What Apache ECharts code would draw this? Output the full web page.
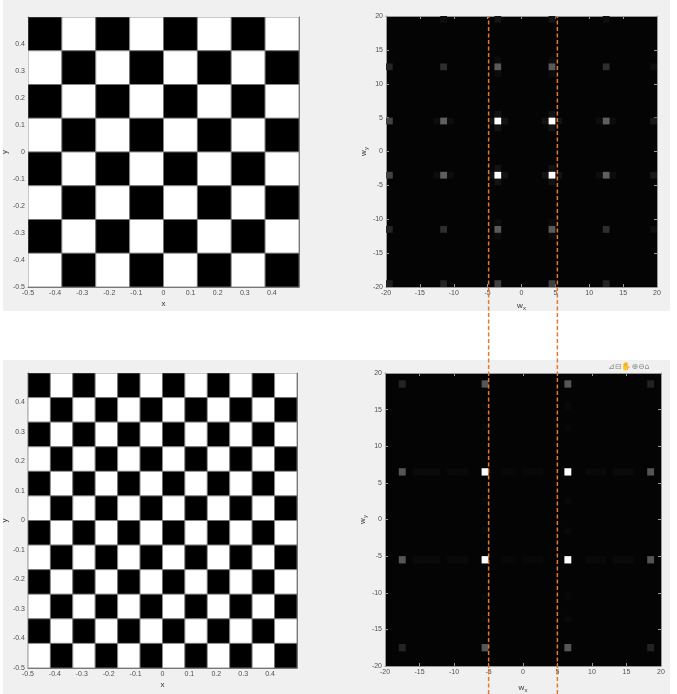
<!doctype html>
<html><head><meta charset="utf-8" />
<style>html,body{margin:0;padding:0;background:#fff}#app{width:677px;height:694px}</style>
<script src="https://cdn.jsdelivr.net/npm/echarts@6/dist/echarts.min.js"></script>
</head><body><div id="app"></div>
<script>
// checkerboards, rows from top, 1 = black cell
const checker8 = ['10101010','01010101','10101010','01010101','10101010','01010101','10101010','01010101'];
const checker12 = ['101010101010','010101010101','101010101010','010101010101','101010101010','010101010101',
                   '101010101010','010101010101','101010101010','010101010101','101010101010','010101010101'];

// spectrum cells [wx, wy, grey level 0-255]
const spec8Peaks = [
  [-3.5,4.5,255],[4.5,4.5,255],[-3.5,-3.5,255],[4.5,-3.5,255],
  [-11.5,4.5,95],[12.5,4.5,95],[-11.5,-3.5,95],[12.5,-3.5,95],
  [-3.5,12.5,90],[4.5,12.5,90],[-3.5,-11.5,90],[4.5,-11.5,90],
  [-19.5,4.5,66],[-19.5,-3.5,66],[-3.5,-19.5,64],[4.5,-19.5,64],
  [-11.5,12.5,46],[12.5,12.5,46],[-11.5,-11.5,46],[12.5,-11.5,46],
  [-19.5,12.5,36],[-19.5,-11.5,36],[-11.5,-19.5,36],[12.5,-19.5,36],[-19.5,-19.5,30],
  [19.5,4.5,24],[19.5,-3.5,24],[-3.5,19.5,20],[4.5,19.5,20],
  [19.5,12.5,14],[19.5,-11.5,14],[12.5,19.5,14],[-11.5,19.5,14]
];
const spec8Leak = [
  [-4.5,4.5,18],[-2.5,4.5,18],[-3.5,5.5,18],[-3.5,3.5,18],
  [3.5,4.5,18],[5.5,4.5,18],[4.5,5.5,18],[4.5,3.5,18],
  [-4.5,-3.5,18],[-2.5,-3.5,18],[-3.5,-2.5,18],[-3.5,-4.5,18],
  [3.5,-3.5,18],[5.5,-3.5,18],[4.5,-2.5,18],[4.5,-4.5,18],
  [-12.5,4.5,12],[-10.5,4.5,12],[11.5,4.5,12],[13.5,4.5,12],
  [-12.5,-3.5,12],[-10.5,-3.5,12],[11.5,-3.5,12],[13.5,-3.5,12],
  [-3.5,13.5,12],[-3.5,11.5,12],[4.5,13.5,12],[4.5,11.5,12],
  [-3.5,-10.5,12],[-3.5,-12.5,12],[4.5,-10.5,12],[4.5,-12.5,12]
];
const spec12Peaks = [
  [-5.5,6.5,255],[6.5,6.5,255],[-5.5,-5.5,255],[6.5,-5.5,255],
  [-17.5,6.5,86],[18.5,6.5,84],[-17.5,-5.5,86],[18.5,-5.5,84],
  [-5.5,18.5,86],[6.5,18.5,86],[-5.5,-17.5,86],[6.5,-17.5,86],
  [-17.5,18.5,36],[18.5,18.5,34],[-17.5,-17.5,36],[18.5,-17.5,34]
];
const spec12Streak = [
  [-15.5,6.5,10],[-14.5,6.5,10],[-13.5,6.5,10],[-12.5,6.5,10],[-10.5,6.5,9],[-9.5,6.5,9],[-8.5,6.5,9],
  [-2.5,6.5,8],[-1.5,6.5,8],[0.5,6.5,8],[1.5,6.5,8],[2.5,6.5,8],
  [9.5,6.5,9],[10.5,6.5,9],[11.5,6.5,9],[13.5,6.5,10],[14.5,6.5,10],[15.5,6.5,10],
  [-15.5,-5.5,10],[-14.5,-5.5,10],[-13.5,-5.5,10],[-12.5,-5.5,10],[-10.5,-5.5,9],[-9.5,-5.5,9],[-8.5,-5.5,9],
  [-2.5,-5.5,8],[-1.5,-5.5,8],[0.5,-5.5,8],[1.5,-5.5,8],[2.5,-5.5,8],
  [9.5,-5.5,9],[10.5,-5.5,9],[11.5,-5.5,9],[13.5,-5.5,10],[14.5,-5.5,10],[15.5,-5.5,10],
  [-5.5,15.5,7],[-5.5,12.5,7],[-5.5,2.5,7],[-5.5,-1.5,7],[-5.5,-10.5,7],[-5.5,-13.5,7],
  [6.5,15.5,8],[6.5,12.5,8],[6.5,2.5,8],[6.5,-1.5,8],[6.5,-10.5,8],[6.5,-13.5,8]
];
// cut-off guides (wx)
const guideX = [-5, 5];

function checkerCells(rows) {
  const n = rows.length, out = [];
  rows.forEach((row, r) => {
    for (let c = 0; c < n; c++) out.push([-0.5 + (c + 0.5) / n, 0.5 - (r + 0.5) / n, row[c] === '1' ? 0 : 255]);
  });
  return out;
}

const FONT = 'Liberation Sans';
const tickTxt = { fontFamily: FONT, fontSize: 7, color: '#505050' };
const nameTxt = { fontFamily: FONT, fontSize: 8, color: '#333',
  rich: { i: { fontFamily: FONT, fontSize: 8, color: '#333' }, s: { fontFamily: FONT, fontSize: 6, color: '#333', padding: [5, 0, 0, 0] } } };
const fmtChk = v => (v > 0.45 ? '' : String(+v.toFixed(1)));

function axes(dim, grid, min, max, step, fmt, name, gap, boxColor, rot) {
  const pos = dim === 'x' ? ['bottom', 'top'] : ['left', 'right'];
  const base = { type: 'value', gridIndex: grid, min, max, interval: step, splitLine: { show: false },
    axisLine: { show: true, onZero: false, lineStyle: { color: boxColor, width: 1 } },
    axisTick: { show: true, inside: true, length: 3, lineStyle: { color: boxColor } } };
  return [
    Object.assign({}, base, { position: pos[0], name, nameLocation: 'middle', nameGap: gap, nameRotate: rot,
      nameTextStyle: nameTxt, axisLabel: Object.assign({ margin: 3, formatter: fmt }, tickTxt) }),
    Object.assign({}, base, { position: pos[1], axisLabel: { show: false } })
  ];
}

function cellSeries(ai, data, w, h, stroke) {
  return { type: 'custom', xAxisIndex: ai, yAxisIndex: ai, data, silent: true, clip: true, z: 2,
    renderItem: (params, api) => {
      const cx = api.value(0), cy = api.value(1), g = api.value(2);
      const a = api.coord([cx - w / 2, cy + h / 2]), b = api.coord([cx + w / 2, cy - h / 2]);
      return { type: 'rect', shape: { x: a[0], y: a[1], width: b[0] - a[0], height: b[1] - a[1] },
        style: { fill: 'rgb(' + g + ',' + g + ',' + g + ')', stroke: stroke || null, lineWidth: stroke ? 0.8 : 0 } };
    } };
}

const chart = echarts.init(document.getElementById('app'), null, { renderer: 'canvas' });
const specBg = '#040404';
const option = {
  animation: false,
  backgroundColor: '#ffffff',
  graphic: [
    { type: 'rect', z: -10, shape: { x: 3, y: 0, width: 667, height: 311 }, style: { fill: '#f0f0f0' } },
    { type: 'rect', z: -10, shape: { x: 3, y: 360, width: 667, height: 334 }, style: { fill: '#f0f0f0' } },
    { type: 'text', z: 10, left: 608, top: 363, style: { text: '⊿⊟✋⊕⊖⌂', font: '8px DejaVu Sans', fill: '#8a8a8a' } }
  ],
  grid: [
    { left: 28, top: 17, width: 271, height: 270, show: true, backgroundColor: '#fff', borderWidth: 0 },
    { left: 386, top: 16, width: 271, height: 271, show: true, backgroundColor: specBg, borderWidth: 0 },
    { left: 22, top: 373, width: 275, height: 295, show: true, backgroundColor: '#fff', borderWidth: 0 },
    { left: 385, top: 373, width: 276, height: 295, show: true, backgroundColor: specBg, borderWidth: 0 },
    { left: 385.5, top: 16, width: 275, height: 678, show: false }
  ],
  xAxis: [
    ...axes('x', 0, -0.5, 0.5, 0.1, fmtChk, 'x', 13, '#777'),
    ...axes('x', 1, -20, 20, 5, null, '{i|w}{s|x}', 13, '#999'),
    ...axes('x', 2, -0.5, 0.5, 0.1, fmtChk, 'x', 13, '#777'),
    ...axes('x', 3, -20, 20, 5, null, '{i|w}{s|x}', 16, '#999'),
    { type: 'value', gridIndex: 4, min: -20, max: 20, show: false }
  ],
  yAxis: [
    ...axes('y', 0, -0.5, 0.5, 0.1, fmtChk, 'y', 14, '#777', 90),
    ...axes('y', 1, -20, 20, 5, null, '{i|w}{s|y}', 15, '#999', 90),
    ...axes('y', 2, -0.5, 0.5, 0.1, fmtChk, 'y', 14, '#777', 90),
    ...axes('y', 3, -20, 20, 5, null, '{i|w}{s|y}', 15, '#999', 90),
    { type: 'value', gridIndex: 4, min: 0, max: 1, show: false }
  ],
  series: [
    cellSeries(0, checkerCells(checker8), 1 / 8, 1 / 8, '#7a7a7a'),
    cellSeries(2, spec8Leak.concat(spec8Peaks), 1, 1),
    cellSeries(4, checkerCells(checker12), 1 / 12, 1 / 12, '#7a7a7a'),
    cellSeries(6, spec12Streak.concat(spec12Peaks), 1, 1),
    ...guideX.map(gx => ({ type: 'line', xAxisIndex: 8, yAxisIndex: 8, data: [[gx, 0], [gx, 1]], symbol: 'none', silent: true, z: 5,
      lineStyle: { color: '#e5782c', width: 1.5, type: [4, 2.5] } }))
  ]
};
chart.setOption(option);
</script></body></html>
